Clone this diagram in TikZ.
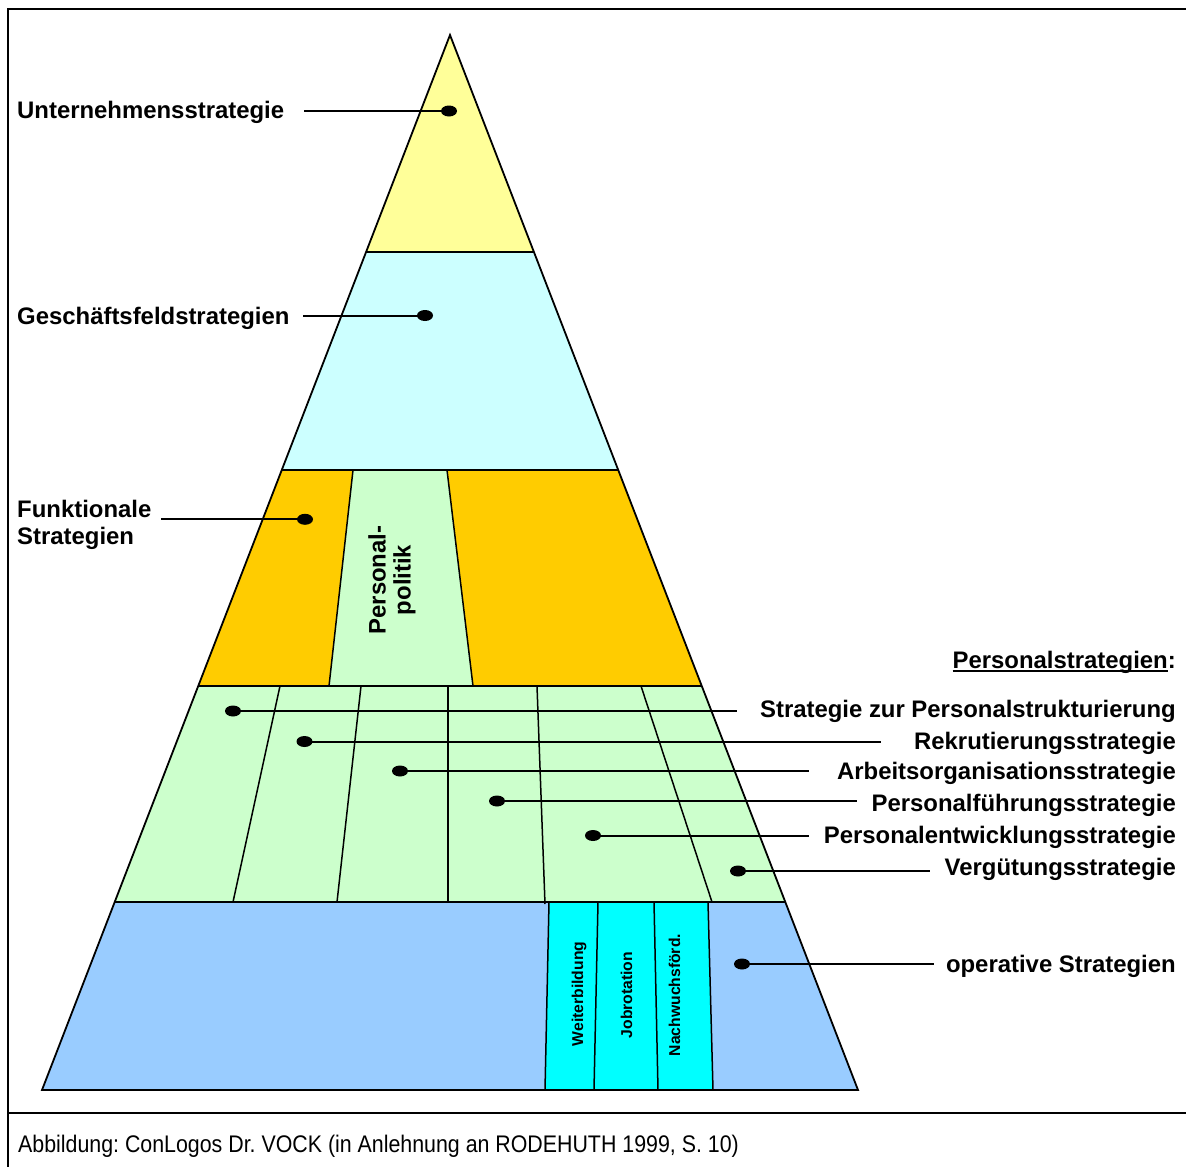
\documentclass[tikz,border=0pt]{standalone}
\usepackage{fontspec}
\setmainfont{Liberation Sans}
\usetikzlibrary{shapes.geometric}
\definecolor{cYellow}{HTML}{FFFF99}
\definecolor{cLCyan}{HTML}{CCFFFF}
\definecolor{cOrange}{HTML}{FFCC00}
\definecolor{cGreen}{HTML}{CCFFCC}
\definecolor{cBlue}{HTML}{99CCFF}
\definecolor{cCyan}{HTML}{00FFFF}
\frenchspacing
\newcommand\myuline[1]{\setbox0\hbox{#1}\rlap{\rule[-4pt]{\wd0}{2pt}}\box0}
\begin{document}
\begin{tikzpicture}[x=1pt,y=-1pt,
  edge/.style={line width=1.8pt},
  divider/.style={line width=1.5pt},
  conn/.style={line width=2pt},
  framel/.style={line width=2pt},
  dot/.style={ellipse, fill=black, minimum width=16pt, minimum height=11pt, inner sep=0pt},
  lbl/.style={font=\bfseries\fontsize{23.9}{27}\selectfont, inner sep=0pt},
  small/.style={font=\bfseries\fontsize{15.7}{18}\selectfont, inner sep=0pt, rotate=90, anchor=base}]
\useasboundingbox (0,0) rectangle (1186,1167);
% frame
\draw[framel] (1186,9) -- (8,9) -- (8,1167);
\draw[framel] (8,1113) -- (1186,1113);
% bands
\fill[cYellow] (450,35) -- (533.9,252) -- (366.1,252) -- cycle;
\fill[cLCyan] (366.1,252) -- (533.9,252) -- (618.2,470) -- (281.8,470) -- cycle;
\fill[cOrange] (281.8,470) -- (618.2,470) -- (701.8,686) -- (198.2,686) -- cycle;
\fill[cGreen] (353,470) -- (447,470) -- (473,686) -- (329,686) -- cycle;
\fill[cGreen] (198.2,686) -- (701.8,686) -- (785.3,902) -- (114.7,902) -- cycle;
\fill[cBlue] (114.7,902) -- (785.3,902) -- (858,1090) -- (42,1090) -- cycle;
\fill[cCyan] (549,902) -- (708,902) -- (713,1090) -- (545,1090) -- cycle;
% outlines
\draw[edge] (366.1,252) -- (533.9,252);
\draw[edge] (281.8,470) -- (618.2,470);
\draw[edge] (198.2,686) -- (701.8,686);
\draw[edge] (114.7,902) -- (785.3,902);
\draw[divider] (353,470) -- (329,686);
\draw[divider] (447,470) -- (473,686);
\draw[divider] (280,686) -- (233,902);
\draw[divider] (361,686) -- (337,902);
\draw[divider] (448,686) -- (448,902);
\draw[divider] (537,686) -- (545,904);
\draw[divider] (641,686) -- (712,902);
\draw[divider] (549,902) -- (545,1090);
\draw[divider] (598,902) -- (594,1090);
\draw[divider] (654,902) -- (658,1090);
\draw[divider] (708,902) -- (713,1090);
\draw[edge] (450,35) -- (858,1090) -- (42,1090) -- cycle;
% rotated texts
\node[font=\bfseries\fontsize{23.9}{25}\selectfont, inner sep=0pt, rotate=90, align=center] (pp) at (392,580) {Personal-\\politik};
\node[small] (wb) at (583,994) {Weiterbildung};
\node[small] (jr) at (632,995) {Jobrotation};
\node[small] (nf) at (680,995) {Nachwuchsförd.};
% left labels
\node[lbl, anchor=base west] (l1) at (17,118.5) {Unternehmensstrategie};
\node[lbl, anchor=base west] (l2) at (17,324) {Geschäftsfeldstrategien};
\node[lbl, anchor=base west, align=left] (l3) at (17,544.3) {Funktionale\\Strategien};
\node[dot] (d1) at (449,111) {};
\node[dot] (d2) at (425,315.5) {};
\node[dot] (d3) at (305,519.3) {};
\coordinate (c1) at (304,111);
\coordinate (c2) at (303,315.5);
\coordinate (c3) at (161,519.3);
\draw[conn] (c1) -- (d1.center);
\draw[conn] (c2) -- (d2.center);
\draw[conn] (c3) -- (d3.center);
% right labels
\node[lbl, anchor=base east] (ps) at (1176,668) {\myuline{Personalstrategien}:};
\node[lbl, anchor=base east] (r1) at (1176,717.5) {Strategie zur Personalstrukturierung};
\node[lbl, anchor=base east] (r2) at (1176,749.5) {Rekrutierungsstrategie};
\node[lbl, anchor=base east] (r3) at (1176,779.5) {Arbeitsorganisationsstrategie};
\node[lbl, anchor=base east] (r4) at (1176,811) {Personalführungsstrategie};
\node[lbl, anchor=base east] (r5) at (1176,843) {Personalentwicklungsstrategie};
\node[lbl, anchor=base east] (r6) at (1176,875) {Vergütungsstrategie};
\node[lbl, anchor=base east] (r7) at (1176,972) {operative Strategien};
\node[dot] (e1) at (233,711) {};
\node[dot] (e2) at (304.5,741.5) {};
\node[dot] (e3) at (400,771) {};
\node[dot] (e4) at (497,801) {};
\node[dot] (e5) at (593,835.5) {};
\node[dot] (e6) at (738,871) {};
\node[dot] (e7) at (742,964) {};
\coordinate (k1) at (737,711);
\coordinate (k2) at (881,741.5);
\coordinate (k3) at (809,771);
\coordinate (k4) at (857,801);
\coordinate (k5) at (809,835.5);
\coordinate (k6) at (930,871);
\coordinate (k7) at (934,964);
\draw[conn] (e1.center) -- (k1);
\draw[conn] (e2.center) -- (k2);
\draw[conn] (e3.center) -- (k3);
\draw[conn] (e4.center) -- (k4);
\draw[conn] (e5.center) -- (k5);
\draw[conn] (e6.center) -- (k6);
\draw[conn] (e7.center) -- (k7);
% caption
\node[anchor=base west, inner sep=0pt, font=\fontsize{24}{28}\selectfont] (cap) at (18,1152) {\scalebox{0.89}[1]{Abbildung: ConLogos Dr. VOCK (in Anlehnung an RODEHUTH 1999, S. 10)}};
\end{tikzpicture}
\end{document}
